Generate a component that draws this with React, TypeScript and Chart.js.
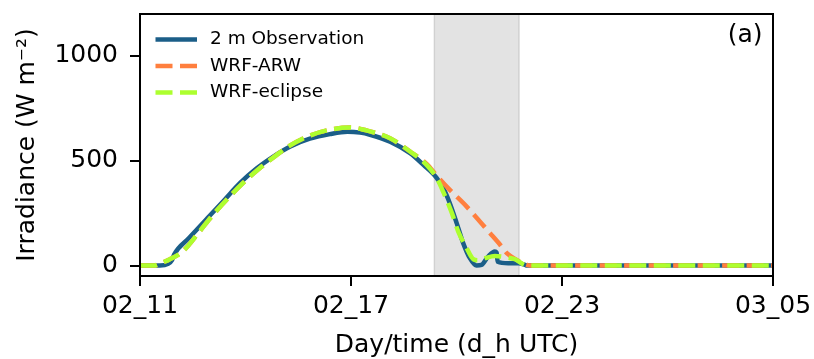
import React, { useEffect, useRef } from 'react';
import { Chart, registerables } from 'chart.js';

Chart.register(...registerables);

// ---- data (hours of day 2, UTC) ----
const xTickValues = [11, 17, 23, 29];
const xTickLabels = ['02_11', '02_17', '02_23', '03_05'];
const yTickValues = [0, 500, 1000];
const eclipseWindow = [19.37, 21.78];

const obsHours = [11.0, 11.57, 11.8, 11.91, 11.97, 12.4, 12.9, 13.4, 13.84, 14.32, 14.79, 15.26, 15.83, 16.4, 16.9, 17.26, 17.54, 18.11, 18.68, 19.06, 19.44, 19.67, 19.81, 20.01, 20.19, 20.38, 20.57, 20.71, 20.9, 21.09, 21.14, 21.17, 21.47, 21.76, 21.95, 22.0, 29.0];
const obsValues = [0, 0, 8, 25, 52, 132, 223, 313, 393, 464, 520, 567, 605, 627, 638, 634, 624, 591, 536, 480, 417, 353, 297, 200, 107, 35, 0, 3, 43, 67, 62, 18, 11, 11, 3, 0, 0];

const arwHours = [11.0, 11.4, 11.57, 11.85, 12.23, 12.66, 13.04, 13.47, 13.94, 14.41, 14.89, 15.26, 15.83, 16.4, 16.97, 17.54, 18.11, 18.68, 19.15, 19.44, 19.81, 20.29, 20.95, 21.24, 21.43, 21.71, 22.0, 22.1, 29.0];
const arwValues = [0, 0, 10, 30, 70, 155, 235, 315, 395, 465, 528, 572, 620, 648, 658, 640, 607, 544, 485, 428, 361, 281, 155, 99, 59, 27, 3, 0, 0];

const eclHours = [11.0, 11.4, 11.57, 11.85, 12.23, 12.66, 13.04, 13.47, 13.94, 14.41, 14.89, 15.26, 15.83, 16.4, 16.97, 17.54, 18.11, 18.68, 19.15, 19.44, 19.62, 19.87, 20.05, 20.29, 20.48, 20.62, 20.81, 21.09, 21.38, 21.66, 22.0, 29.0];
const eclValues = [0, 0, 10, 30, 70, 155, 235, 315, 395, 465, 528, 572, 620, 648, 658, 640, 607, 544, 480, 417, 353, 250, 162, 83, 30, 25, 35, 45, 40, 30, 0, 0];

const seriesLabels = ['2 m Observation', 'WRF-ARW', 'WRF-eclipse'];
const seriesColors = ['#1b5e88', '#ff7f3e', '#adff2f'];

const FONT = '"DejaVu Sans", sans-serif';

const toPoints = (xs: number[], ys: number[]) => xs.map((x, i) => ({ x, y: ys[i] }));

const shadePlugin = {
  id: 'eclipseShade',
  beforeDatasetsDraw(chart: any) {
    const { ctx, chartArea, scales } = chart;
    const x1 = scales.x.getPixelForValue(eclipseWindow[0]);
    const x2 = scales.x.getPixelForValue(eclipseWindow[1]);
    ctx.save();
    ctx.fillStyle = 'rgba(128,128,128,0.22)';
    ctx.fillRect(x1, chartArea.top, x2 - x1, chartArea.bottom - chartArea.top);
    ctx.strokeStyle = 'rgba(128,128,128,0.25)';
    ctx.lineWidth = 1.5;
    ctx.beginPath();
    ctx.moveTo(x1, chartArea.top);
    ctx.lineTo(x1, chartArea.bottom);
    ctx.moveTo(x2, chartArea.top);
    ctx.lineTo(x2, chartArea.bottom);
    ctx.stroke();
    ctx.restore();
  },
};

const framePlugin = {
  id: 'frameLegend',
  afterDraw(chart: any) {
    const { ctx, chartArea } = chart;
    const { left, top, right, bottom } = chartArea;
    ctx.save();
    ctx.strokeStyle = '#000';
    ctx.lineWidth = 2;
    ctx.setLineDash([]);
    ctx.strokeRect(left, top, right - left, bottom - top);

    ctx.fillStyle = '#000';
    ctx.font = `25px ${FONT}`;
    ctx.textAlign = 'right';
    ctx.textBaseline = 'alphabetic';
    ctx.fillText('(a)', right - 10.5, top + 27.5);

    const rows = [25.5, 52, 78.5];
    chart.data.datasets.forEach((ds: any, i: number) => {
      const y = top + rows[i];
      ctx.save();
      ctx.strokeStyle = ds.borderColor;
      ctx.lineWidth = ds.borderWidth;
      ctx.lineCap = 'butt';
      ctx.setLineDash(ds.borderDash || []);
      ctx.beginPath();
      ctx.moveTo(left + 15.5, y);
      ctx.lineTo(left + 57, y);
      ctx.stroke();
      ctx.restore();
      ctx.fillStyle = '#000';
      ctx.font = `18.5px ${FONT}`;
      ctx.textAlign = 'left';
      ctx.textBaseline = 'middle';
      ctx.fillText(ds.label, left + 70, y);
    });
    ctx.restore();
  },
};

export default function App() {
  const ref = useRef<HTMLCanvasElement>(null);

  useEffect(() => {
    Chart.defaults.font.family = FONT;
    Chart.defaults.color = '#000';
    const common = {
      pointRadius: 0,
      pointHoverRadius: 0,
      borderWidth: 4.5,
      fill: false,
      cubicInterpolationMode: 'monotone' as const,
    };
    const chart = new Chart(ref.current as HTMLCanvasElement, {
      type: 'line',
      data: {
        datasets: [
          { ...common, label: seriesLabels[0], data: toPoints(obsHours, obsValues), borderColor: seriesColors[0], order: 3 },
          { ...common, label: seriesLabels[1], data: toPoints(arwHours, arwValues), borderColor: seriesColors[1], borderDash: [17, 7.5], order: 2 },
          { ...common, label: seriesLabels[2], data: toPoints(eclHours, eclValues), borderColor: seriesColors[2], borderDash: [17, 7.5], order: 1 },
        ],
      },
      options: {
        animation: false,
        responsive: false,
        events: [],
        layout: { padding: { top: 14, right: 41, left: 0, bottom: 0 } },
        plugins: { legend: { display: false }, tooltip: { enabled: false } },
        scales: {
          x: {
            type: 'linear',
            min: xTickValues[0],
            max: xTickValues[xTickValues.length - 1],
            afterFit: (s: any) => {
              s.height = 83;
              s.paddingLeft = 0; s.paddingRight = 0; s.paddingTop = 0; s.paddingBottom = 0;
            },
            afterBuildTicks: (s: any) => { s.ticks = xTickValues.map((v) => ({ value: v })); },
            ticks: {
              autoSkip: false,
              maxRotation: 0,
              padding: 5,
              color: '#000',
              font: { size: 25, family: FONT },
              callback: (_v: any, i: number) => xTickLabels[i],
            },
            grid: { drawOnChartArea: false, drawTicks: true, tickLength: 10, color: '#000', lineWidth: 2 },
            border: { display: true, color: '#000', width: 2 },
            title: { display: true, text: 'Day/time (d_h UTC)', color: '#000', font: { size: 25, family: FONT }, padding: { top: 0, bottom: -1 } },
          },
          y: {
            type: 'linear',
            min: -50,
            max: 1200,
            afterFit: (s: any) => {
              s.width = 140;
              s.paddingLeft = 0; s.paddingRight = 0; s.paddingTop = 0; s.paddingBottom = 0;
            },
            afterBuildTicks: (s: any) => { s.ticks = yTickValues.map((v) => ({ value: v })); },
            ticks: {
              autoSkip: false,
              padding: 12,
              color: '#000',
              font: { size: 25, family: FONT },
              callback: (v: any) => String(v),
            },
            grid: { drawOnChartArea: false, drawTicks: true, tickLength: 10, color: '#000', lineWidth: 2 },
            border: { display: true, color: '#000', width: 2 },
            title: { display: true, text: 'Irradiance (W m\u207B\u00B2)', color: '#000', font: { size: 25, family: FONT }, padding: { top: 12, bottom: 0 } },
          },
        },
      },
      plugins: [shadePlugin, framePlugin],
    });
    return () => chart.destroy();
  }, []);

  return (
    <div style={{ position: 'fixed', left: 0, top: 0, width: 814, height: 359, background: '#fff' }}>
      <canvas ref={ref} width={814} height={359} style={{ display: 'block' }} />
    </div>
  );
}
